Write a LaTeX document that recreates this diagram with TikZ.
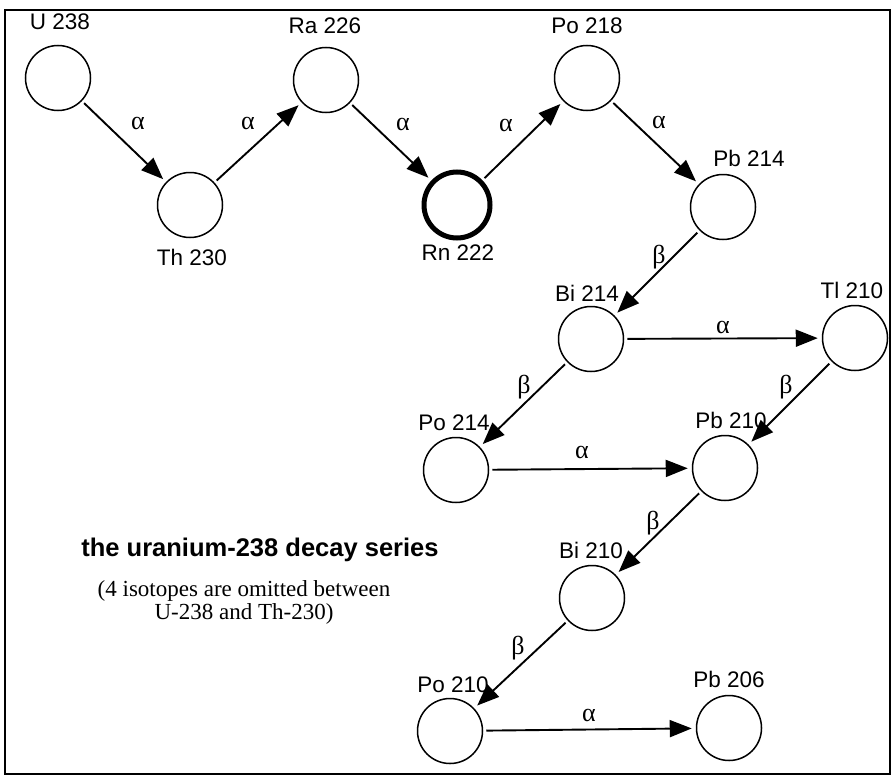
\documentclass[tikz,border=0pt]{standalone}
\usepackage{fontspec}
\setmainfont{Liberation Sans}
\newfontfamily\serifgr{Liberation Serif}
\usetikzlibrary{arrows.meta}
\begin{document}
\begin{tikzpicture}[x=1pt,y=-1pt,
  iso/.style={circle, draw, line width=1.5pt, minimum size=65pt, inner sep=0pt},
  rnstyle/.style={circle, draw, line width=5pt, minimum size=66pt, inner sep=0pt},
  isolabel/.style={font=\fontsize{22.5}{26}\selectfont, inner sep=0pt},
  decay/.style={line width=1.9pt, -{Triangle[length=22pt,width=17pt]}, shorten <=3pt, shorten >=4pt},
  gr/.style={font=\serifgr\fontsize{26}{28}\selectfont, inner sep=0pt}]
\useasboundingbox (0,0) rectangle (893,776);
\draw[line width=1.8pt] (5,10) rectangle (890,774);

% isotopes
\node[iso] (U)  at (58,78) {};
\node[iso] (Th) at (190,205) {};
\node[iso] (Ra) at (326,80) {};
\node[rnstyle] (Rn) at (457,205) {};
\node[iso] (Po218) at (587,78) {};
\node[iso] (Pb214) at (723,207) {};
\node[iso] (Bi214) at (591,339) {};
\node[iso] (Tl210) at (855,338) {};
\node[iso] (Po214) at (456,470) {};
\node[iso] (Pb210) at (725,468) {};
\node[iso] (Bi210) at (592,598) {};
\node[iso] (Po210) at (450,731) {};
\node[iso] (Pb206) at (729,728) {};

% labels
\node[isolabel] (Ul)  at (60,22) {U 238};
\node[isolabel] (Thl) at (192,257) {Th 230};
\node[isolabel] (Ral) at (325,26) {Ra 226};
\node[isolabel] (Rnl) at (458,253) {Rn 222};
\node[isolabel] (Po218l) at (587,26) {Po 218};
\node[isolabel] (Pb214l) at (749,158) {Pb 214};
\node[isolabel] (Bi214l) at (587,293) {Bi 214};
\node[isolabel] (Tl210l) at (852,290) {Tl 210};
\node[isolabel] (Po214l) at (454,423) {Po 214};
\node[isolabel] (Pb210l) at (731,420) {Pb 210};
\node[isolabel] (Bi210l) at (591,550) {Bi 210};
\node[isolabel] (Po210l) at (453,685) {Po 210};
\node[isolabel] (Pb206l) at (729,679) {Pb 206};

% decays
\draw[decay] (U) -- (Th);
\draw[decay] (Th) -- (Ra);
\draw[decay] (Ra) -- (Rn);
\draw[decay] (Rn) -- (Po218);
\draw[decay] (Po218) -- (Pb214);
\draw[decay] (Pb214) -- (Bi214);
\draw[decay] (Bi214) -- (Tl210);
\draw[decay] (Bi214) -- (Po214);
\draw[decay] (Tl210) -- (Pb210);
\draw[decay] (Po214) -- (Pb210);
\draw[decay] (Pb210) -- (Bi210);
\draw[decay] (Bi210) -- (Po210);
\draw[decay] (Po210) -- (Pb206);

% greek labels
\node[gr] (a1) at (138,123) {α};
\node[gr] (a2) at (248,123) {α};
\node[gr] (a3) at (403,124) {α};
\node[gr] (a4) at (506,125) {α};
\node[gr] (a5) at (659,122) {α};
\node[gr] (b1) at (659,257) {β};
\node[gr] (a6) at (723,327) {α};
\node[gr] (b2) at (524,387) {β};
\node[gr] (b3) at (786,387) {β};
\node[gr] (a7) at (582,452) {α};
\node[gr] (b4) at (653,523) {β};
\node[gr] (b5) at (518,648) {β};
\node[gr] (a8) at (589,715) {α};

% caption
\node[font=\bfseries\fontsize{25.5}{30}\selectfont, inner sep=0pt] (title) at (260,550) {the uranium-238 decay series};
\node[font=\serifgr\fontsize{23}{23}\selectfont, align=center, inner sep=0pt] (note) at (244,602) {(4 isotopes are omitted between\\U-238 and Th-230)};
\end{tikzpicture}
\end{document}
